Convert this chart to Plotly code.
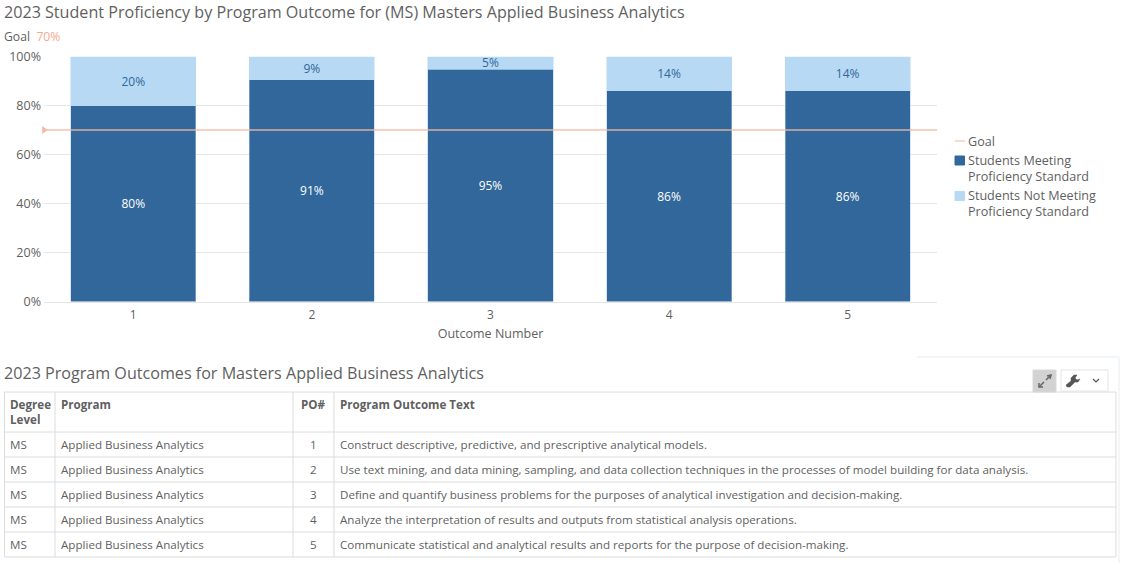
import plotly.graph_objects as go

W, H = 1122, 563
FONT = "Open Sans"
GREY = "#5f5f5f"
LINE = "#dcdcdc"

# chart data
outcomes = ["1", "2", "3", "4", "5"]
meeting = [80, 90.6, 94.7, 86.1, 86]
not_meeting = [20, 9.4, 5.3, 13.9, 14]
goal = 70
y_ticks = [0, 20, 40, 60, 80, 100]
y_labels = ["0%", "20%", "40%", "60%", "80%", "100%"]

# table data
table_headers = [["Degree", "Level"], ["Program"], ["PO#"], ["Program Outcome Text"]]
degree_level = ["MS", "MS", "MS", "MS", "MS"]
program = ["Applied Business Analytics"] * 5
po_number = ["1", "2", "3", "4", "5"]
po_text = [
    "Construct descriptive, predictive, and prescriptive analytical models.",
    "Use text mining, and data mining, sampling, and data collection techniques in the processes of model building for data analysis.",
    "Define and quantify business problems for the purposes of analytical investigation and decision-making.",
    "Analyze the interpretation of results and outputs from statistical analysis operations.",
    "Communicate statistical and analytical results and reports for the purpose of decision-making.",
]


# pixel helpers, the page is a fixed size
def px(x):
    return x / W


def py(y):
    return 1 - y / H


annotations = []
shapes = []


def label(text, x, y, size=12, anchor="left", color=GREY):
    annotations.append(dict(
        text=text, x=px(x), y=py(y), xref="paper", yref="paper", xanchor=anchor,
        align=anchor, yanchor="middle", showarrow=False, borderpad=0, borderwidth=0,
        font=dict(family=FONT, size=size, color=color),
    ))


def outline(points, color, width=1, fill=None, close=False):
    d = "M " + " L ".join("%.5f,%.5f" % (px(x), py(y)) for x, y in points)
    s = dict(type="path", path=d + (" Z" if close else ""), xref="paper", yref="paper",
             line=dict(color=color, width=width))
    if fill:
        s["fillcolor"] = fill
    shapes.append(s)


def box(x0, y0, x1, y1, color, fill):
    shapes.append(dict(type="rect", xref="paper", yref="paper", x0=px(x0), x1=px(x1),
                       y0=py(y0), y1=py(y1), fillcolor=fill, line=dict(color=color, width=1)))


fig = go.Figure()

# goal line runs across the full plot width, so it gets its own hidden x axis
fig.add_trace(go.Scatter(
    x=[0, 1], y=[goal, goal], xaxis="x2", mode="lines", name="Goal",
    line=dict(color="rgba(243,186,163,0.65)", width=2),
))
fig.add_trace(go.Bar(
    x=outcomes, y=meeting, name="Students Meeting Proficiency Standard",
    marker=dict(color="#31679a", line=dict(color="#a9cbe8", width=0.5)),
    texttemplate="%{y:.0f}%", textposition="inside", insidetextanchor="middle",
    constraintext="none", textangle=0,
    textfont=dict(color="white", size=12, family=FONT),
))
fig.add_trace(go.Bar(
    x=outcomes, y=not_meeting, name="Students Not Meeting Proficiency Standard",
    marker=dict(color="#b7d9f4", line=dict(color="#b7d9f4", width=0.5)),
    texttemplate="%{y:.0f}%", textposition="inside", insidetextanchor="middle",
    constraintext="none", textangle=0,
    textfont=dict(color="#31679a", size=12, family=FONT),
))
# little arrow at the start of the goal line
fig.add_trace(go.Scatter(
    x=[0], y=[goal], xaxis="x2", mode="markers", showlegend=False, cliponaxis=False,
    marker=dict(symbol="triangle-right", size=7, color="#f6b79f"), hoverinfo="skip",
))

# titles
label("2023 Student Proficiency by Program Outcome for (MS) Masters Applied Business Analytics",
      4, 12, size=16.12)
label('Goal  <span style="color:#f6a98c">%d%%</span>' % goal, 4, 36, size=12.2)
label("2023 Program Outcomes for Masters Applied Business Analytics", 4, 373, size=16.12)

# legend, drawn by hand for the small swatches and the tight line spacing
outline([(955, 141), (965, 141)], "#f8cdb8", 1.5)
label("Goal", 968, 141, size=12.6)
box(955, 156, 964.5, 165, "#31679a", "#31679a")
label("Students Meeting<br>Proficiency Standard", 968, 168.5, size=12.6)
box(955, 191.5, 964.5, 200.5, "#b7d9f4", "#b7d9f4")
label("Students Not Meeting<br>Proficiency Standard", 968, 203.5, size=12.6)

# table
col_edges = [4.5, 55, 293, 334, 1116]
row_edges = [392, 432, 457, 482, 507, 532, 557]
columns = [degree_level, program, po_number, po_text]
aligns = ["left", "left", "center", "left"]

for x in col_edges:
    outline([(x, row_edges[0]), (x, row_edges[-1])], LINE)
for y in row_edges:
    outline([(col_edges[0], y), (col_edges[-1], y)], LINE)

for c, column in enumerate(columns):
    left, right = col_edges[c], col_edges[c + 1]
    x = (left + right) / 2 if aligns[c] == "center" else left + 5.5
    for i, line in enumerate(table_headers[c]):
        label("<b>%s</b>" % line, x, 405 + 14 * i, size=11.62, anchor=aligns[c])
    for r, value in enumerate(column):
        label(value, x, (row_edges[r + 1] + row_edges[r + 2]) / 2 - 0.5, size=11.62, anchor=aligns[c])

# panel corner behind the table
outline([(917, 357), (1119, 357), (1119, 563)], "#e6edf2")

# expand button
box(1033, 370, 1056, 392, "#d8d8d8", "#d2d2d2")
outline([(1039, 387), (1044, 382)], "#666", 1.5)
outline([(1046, 380), (1051, 375)], "#666", 1.5)
outline([(1047, 376), (1051, 375), (1050, 379)], "#666", 1.5)
outline([(1039, 383), (1039, 387), (1043, 387)], "#666", 1.5)

# tools button
box(1061, 370, 1108, 391, "#e4e4e4", "white")
outline([(1067, 387), (1070, 387), (1075, 382), (1078, 382), (1080, 379), (1077, 380),
         (1075, 378), (1077, 375), (1074, 375), (1071, 378), (1071, 381), (1066, 385)],
        "#555", 0.5, fill="#555", close=True)
outline([(1093, 379), (1096, 382), (1099, 379)], "#555", 1.2)

fig.update_layout(
    width=W, height=H,
    margin=dict(l=0, r=0, t=0, b=0, autoexpand=False),
    paper_bgcolor="white", plot_bgcolor="white",
    font=dict(family=FONT, size=12, color=GREY),
    barmode="stack", bargap=0.3,
    showlegend=False,
    xaxis=dict(domain=[px(44), px(937)], anchor="y", type="category",
               showgrid=False, ticks="", showline=True, linecolor="#e6e6e6",
               ticklabelstandoff=2,
               title=dict(text="Outcome Number", standoff=7, font=dict(size=12.5, color=GREY)),
               tickfont=dict(size=12, color=GREY)),
    xaxis2=dict(domain=[px(44), px(937)], anchor="y", overlaying="x", range=[0, 1],
                visible=False),
    yaxis=dict(domain=[py(301.5), py(56.5)], range=[0, 100], tickvals=y_ticks, ticktext=y_labels,
               gridcolor="#e6e6e6", gridwidth=1, zeroline=False, ticks="",
               ticklabelstandoff=2,
               tickfont=dict(size=12.5, color=GREY)),
    annotations=annotations,
    shapes=shapes,
)

fig.write_html("out.html", config=dict(displayModeBar=False),
               post_script="document.body.style.margin='0';document.body.style.overflow='hidden';")
